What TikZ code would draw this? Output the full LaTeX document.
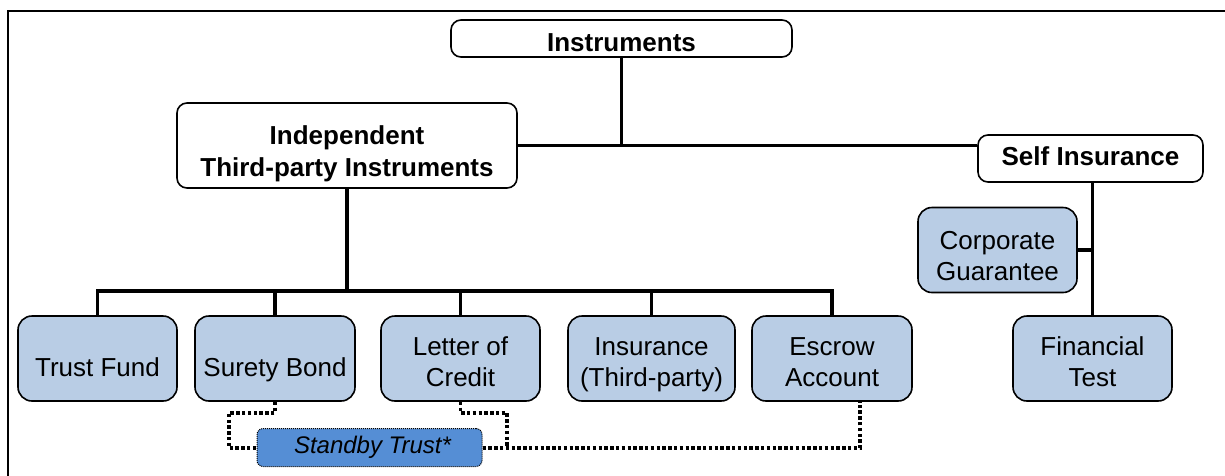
\documentclass[tikz,border=0pt]{standalone}
\usepackage{fontspec}
\setmainfont{Liberation Sans}
\usetikzlibrary{calc}
\definecolor{boxblue}{HTML}{B9CDE5}
\definecolor{trustblue}{HTML}{558ED5}

\begin{document}
\begin{tikzpicture}[x=1pt,y=-1pt,
  head/.style={draw, line width=1.6pt, rounded corners=10pt, fill=white, align=center,
    inner sep=0pt, font=\fontsize{26}{32}\selectfont\bfseries},
  item/.style={draw, line width=1.6pt, rounded corners=14pt, fill=boxblue, align=center,
    inner sep=0pt, minimum width=159pt, minimum height=85pt, font=\fontsize{26}{31}\selectfont},
  drop/.style={text height=#1, text depth=0pt},
  link/.style={line width=3.6pt},
  dots/.style={line width=3.4pt, dash pattern=on 3.4pt off 2.4pt}]

\useasboundingbox (0,0) rectangle (1225,475);
\draw[line width=1.5pt] (8,11) rectangle (1250,500);

% top level
\node[head, drop=25pt, minimum width=341pt, minimum height=37pt] (instr) at (621.5,38.5) {Instruments};
\node[head, drop=61pt, minimum width=340pt, minimum height=85pt] (indep) at (347,145.5) {Independent\\Third-party Instruments};
\node[head, drop=13pt, minimum width=225pt, minimum height=47pt] (self) at (1090.5,158.5) {Self Insurance};

% instruments
\node[item, drop=35pt] (trust) at (97.5,358.5) {Trust Fund};
\node[item, drop=35pt, minimum width=160pt] (surety) at (275,358.5) {Surety Bond};
\node[item, drop=56pt] (loc) at (460.5,358.5) {Letter of\\Credit};
\node[item, drop=56pt, minimum width=167pt] (ins) at (651.5,358.5) {Insurance\\(Third-party)};
\node[item, drop=56pt, minimum width=160pt] (escrow) at (832,358.5) {Escrow\\Account};
\node[item, drop=60pt] (corp) at (997.5,250) {Corporate\\Guarantee};
\node[item, drop=56pt] (fin) at (1092.5,358.5) {Financial\\Test};
\node[draw, line width=1pt, densely dotted, fill=trustblue, rounded corners=6pt, inner sep=0pt,
  minimum width=225pt, minimum height=38pt, font=\fontsize{24}{28}\selectfont\itshape] (standby) at (369.5,447.5) {\hspace{6pt}Standby Trust*};

% tree
\coordinate (bus) at (347,291);
\draw[link] (instr.south) -- (instr.south |- indep.east);
\draw[link] (indep.east) -- (indep.east -| self.west);
\draw[link] (indep.south) -- (bus);
\draw[link] (trust.north) |- (escrow.north |- bus) -- (escrow.north);
\foreach \n in {surety,loc,ins}
  \draw[link] (\n.north) -- (\n.north |- bus);
\draw[link] (fin.north |- self.south) -- (fin.north);
\draw[link] (corp.east) -- (corp.east -| fin.north);

% standby trust links
\coordinate (dl) at (229,448);
\coordinate (dr) at (507,448);
\draw[dots] (surety.south) -- ++(0,11) -| (dl) -- (standby.west |- dl);
\draw[dots] (loc.south) -- ++(0,11) -| (dr);
\draw[dots] (standby.east |- dr) -| ([xshift=28pt]escrow.south);

\end{tikzpicture}
\end{document}
